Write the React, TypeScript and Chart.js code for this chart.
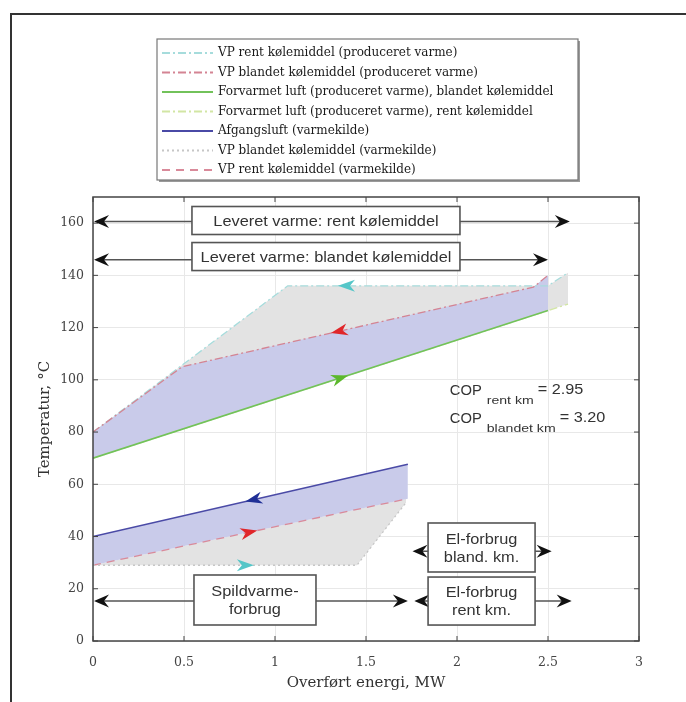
import React, { useEffect, useRef } from "react";
import { Chart, registerables } from "chart.js";
Chart.register(...registerables);

// ---------- axes ----------
const xTicks = [0, 0.5, 1, 1.5, 2, 2.5, 3];
const xTickLabels = ["0", "0.5", "1", "1.5", "2", "2.5", "3"];
const yTicks = [0, 20, 40, 60, 80, 100, 120, 140, 160];
const yTickLabels = ["0", "20", "40", "60", "80", "100", "120", "140", "160"];

// ---------- series (x = MW, y = °C) ----------
const vpRentProdX = [0, 1.07, 2.5, 2.61];
const vpRentProdY = [80, 136, 136, 141];
const vpBlandProdX = [0, 0.49, 2.42, 2.5];
const vpBlandProdY = [80, 105, 135.5, 140];
const luftBlandX = [0, 2.5];
const luftBlandY = [70, 126.5];
const luftRentX = [0, 2.61];
const luftRentY = [70, 129];
const afgangX = [0, 1.73];
const afgangY = [40, 67.7];
const vpBlandKildeX = [0, 1.45, 1.72];
const vpBlandKildeY = [29, 29, 53];
const vpRentKildeX = [0, 1.73];
const vpRentKildeY = [29, 54.5];

const seriesLabels = [
  "VP blandet kølemiddel (produceret varme)",
  "Afgangsluft (varmekilde)",
  "Forvarmet luft (produceret varme), blandet kølemiddel",
  "VP rent kølemiddel (produceret varme)",
  "Forvarmet luft (produceret varme), rent kølemiddel",
  "VP blandet kølemiddel (varmekilde)",
  "VP rent kølemiddel (varmekilde)",
];
const legendOrder = [3, 0, 2, 4, 1, 5, 6];

// flow direction arrows along lines
const flowArrowSeries = [3, 0, 2, 1, 6, 5];
const flowArrowX = [1.39, 1.35, 1.36, 0.88, 0.86, 0.84];
const flowArrowDir = [-1, -1, 1, -1, 1, 1];
const flowArrowColors = ["#55c6c8", "#e0262a", "#5cb82c", "#1f2f96", "#e0262a", "#55c6c8"];

// annotations (double arrows with text boxes)
const annotLabels = [
  ["Leveret varme: rent kølemiddel"],
  ["Leveret varme: blandet kølemiddel"],
  ["Spildvarme-", "forbrug"],
  ["El-forbrug", "rent km."],
  ["El-forbrug", "bland. km."],
];
const annotY = [160.6, 146, 15.3, 15.3, 34.4];
const annotX0 = [0, 0, 0, 1.76, 1.75];
const annotX1 = [2.62, 2.5, 1.73, 2.63, 2.52];
const annotBoxX = [1.28, 1.28, 0.89, 2.135, 2.135];
const annotBoxY = [161, 147.2, 15.7, 15.3, 35.8];

// COP text
const copSubs = ["rent km", "blandet km"];
const copValues = ["2.95", "3.20"];
const copX = [1.96, 1.96];
const copY = [95.6, 84.9];

const LAV = "#c9cbea";
const GREY = "#e3e3e3";
const boxSizes = [
  [268, 28],
  [268, 28],
  [122, 50],
  [107, 48],
  [107, 49],
];
const SANS = "'Liberation Sans', Arial, sans-serif";
const SERIF = "'DejaVu Serif', serif";

const zip = (xs: number[], ys: number[]) => xs.map((x, i) => ({ x, y: ys[i] }));

function drawHead(ctx: CanvasRenderingContext2D, tx: number, ty: number, ang: number, len: number, half: number, notch: number, color: string) {
  ctx.save();
  ctx.translate(tx, ty);
  ctx.rotate(ang);
  ctx.beginPath();
  ctx.moveTo(0, 0);
  ctx.lineTo(-len, -half);
  ctx.lineTo(-len + notch, 0);
  ctx.lineTo(-len, half);
  ctx.closePath();
  ctx.fillStyle = color;
  ctx.fill();
  ctx.restore();
}

function wideText(ctx: CanvasRenderingContext2D, t: string, x: number, y: number, sx: number) {
  ctx.save();
  ctx.translate(x, y);
  ctx.scale(sx, 1);
  ctx.fillText(t, 0, 0);
  const w = ctx.measureText(t).width * sx;
  ctx.restore();
  return w;
}

function interp(xs: number[], ys: number[], x: number) {
  for (let i = 0; i < xs.length - 1; i++) {
    if (x >= xs[i] && x <= xs[i + 1]) {
      const t = (x - xs[i]) / (xs[i + 1] - xs[i]);
      return { y: ys[i] + t * (ys[i + 1] - ys[i]), i };
    }
  }
  return { y: ys[ys.length - 1], i: xs.length - 2 };
}

const decorPlugin = {
  id: "decor",
  beforeDraw(chart: any) {
    const ctx = chart.ctx as CanvasRenderingContext2D;
    ctx.save();
    ctx.fillStyle = "#fff";
    ctx.fillRect(0, 0, chart.width, chart.height);
    ctx.strokeStyle = "#333";
    ctx.lineWidth = 2;
    ctx.beginPath();
    ctx.moveTo(11, 702);
    ctx.lineTo(11, 14);
    ctx.lineTo(686, 14);
    ctx.stroke();
    ctx.restore();
  },
  afterDatasetsDraw(chart: any) {
    const ctx = chart.ctx as CanvasRenderingContext2D;
    const xs = chart.scales.x;
    const ys = chart.scales.y;
    const area = chart.chartArea;
    const px = (v: number) => xs.getPixelForValue(v);
    const py = (v: number) => ys.getPixelForValue(v);

    // flow arrows
    const seriesXY = chart.data.datasets.map((d: any) => [d.data.map((p: any) => p.x), d.data.map((p: any) => p.y)]);
    flowArrowX.forEach((x, k) => {
      const [sx, sy] = seriesXY[flowArrowSeries[k]];
      const { y, i } = interp(sx, sy, x);
      const dxp = px(sx[i + 1]) - px(sx[i]);
      const dyp = py(sy[i + 1]) - py(sy[i]);
      let ang = Math.atan2(dyp, dxp);
      if (flowArrowDir[k] < 0) ang += Math.PI;
      const cx = px(x), cy = py(y);
      const tx = cx + Math.cos(ang) * 8, ty = cy + Math.sin(ang) * 8;
      drawHead(ctx, tx, ty, ang, 17, 6, 5, flowArrowColors[k]);
    });

    // plot frame + ticks
    ctx.save();
    ctx.strokeStyle = "#444";
    ctx.lineWidth = 1.5;
    ctx.strokeRect(area.left, area.top, area.right - area.left, area.bottom - area.top);
    ctx.lineWidth = 1;
    ctx.beginPath();
    xTicks.forEach((v) => {
      const x = px(v);
      ctx.moveTo(x, area.bottom); ctx.lineTo(x, area.bottom - 5);
      ctx.moveTo(x, area.top); ctx.lineTo(x, area.top + 5);
    });
    yTicks.forEach((v) => {
      const y = py(v);
      ctx.moveTo(area.left, y); ctx.lineTo(area.left + 5, y);
      ctx.moveTo(area.right, y); ctx.lineTo(area.right - 5, y);
    });
    ctx.stroke();
    ctx.restore();

    // annotations
    annotLabels.forEach((lines, k) => {
      const y = py(annotY[k]);
      const x0 = px(annotX0[k]) + 1;
      const x1 = px(annotX1[k]);
      ctx.save();
      ctx.strokeStyle = "#555";
      ctx.lineWidth = 1.5;
      ctx.beginPath();
      ctx.moveTo(x0 + 8, y);
      ctx.lineTo(x1 - 8, y);
      ctx.stroke();
      drawHead(ctx, x0, y, Math.PI, 15, 6.5, 5, "#111");
      drawHead(ctx, x1, y, 0, 15, 6.5, 5, "#111");
      const [w, h] = boxSizes[k];
      const cx = px(annotBoxX[k]);
      const cy = py(annotBoxY[k]);
      ctx.fillStyle = "#fff";
      ctx.fillRect(cx - w / 2, cy - h / 2, w, h);
      ctx.strokeStyle = "#555";
      ctx.lineWidth = 1.6;
      ctx.strokeRect(cx - w / 2, cy - h / 2, w, h);
      ctx.fillStyle = "#333";
      ctx.font = "15px " + SANS;
      ctx.textAlign = "center";
      ctx.textBaseline = "middle";
      const lh = 18;
      lines.forEach((t, j) => {
        ctx.save();
        ctx.translate(cx, cy + (j - (lines.length - 1) / 2) * lh + 1);
        ctx.scale(1.09, 1);
        ctx.fillText(t, 0, 0);
        ctx.restore();
      });
      ctx.restore();
    });

    // COP text
    ctx.save();
    ctx.fillStyle = "#333";
    ctx.textBaseline = "middle";
    ctx.textAlign = "left";
    copSubs.forEach((s, k) => {
      let x = px(copX[k]);
      const y = py(copY[k]);
      ctx.font = "14.5px " + SANS;
      x += wideText(ctx, "COP", x, y, 1.02) + 5;
      ctx.font = "11px " + SANS;
      x += wideText(ctx, s, x, y + 10, 1.28) + 4;
      ctx.font = "14.5px " + SANS;
      wideText(ctx, "= " + copValues[k], x, y - 1, 1.12);
    });
    ctx.restore();
  },
  afterDraw(chart: any) {
    const ctx = chart.ctx as CanvasRenderingContext2D;
    // legend
    const L = 157, T = 39, R = 578, B = 180;
    ctx.save();
    ctx.fillStyle = "#9a9a9a";
    ctx.fillRect(L + 2, T + 2, R - L, B - T);
    ctx.fillStyle = "#fff";
    ctx.fillRect(L, T, R - L, B - T);
    ctx.strokeStyle = "#777";
    ctx.lineWidth = 1.2;
    ctx.strokeRect(L, T, R - L, B - T);
    legendOrder.forEach((di, row) => {
      const ds = chart.data.datasets[di];
      const y = 53 + row * 19.5;
      ctx.save();
      ctx.strokeStyle = ds.borderColor;
      ctx.lineWidth = 1.8;
      ctx.setLineDash(ds.borderDash || []);
      ctx.beginPath();
      ctx.moveTo(162, y);
      ctx.lineTo(213, y);
      ctx.stroke();
      ctx.restore();
      ctx.fillStyle = "#1a1a1a";
      ctx.font = "12px " + SERIF;
      ctx.textBaseline = "middle";
      ctx.textAlign = "left";
      ctx.fillText(ds.label, 218, y);
    });
    ctx.restore();
  },
};

export default function App() {
  const ref = useRef<HTMLCanvasElement | null>(null);
  useEffect(() => {
    if (!ref.current) return;
    const lineBase = { pointRadius: 0, tension: 0, borderWidth: 1.3, showLine: true };
    const chart = new Chart(ref.current, {
      type: "line",
      data: {
        datasets: [
          { ...lineBase, label: seriesLabels[0], data: zip(vpBlandProdX, vpBlandProdY), borderColor: "#d48493", borderDash: [8, 3, 2, 3], fill: { target: 2 }, backgroundColor: LAV },
          { ...lineBase, label: seriesLabels[1], data: zip(afgangX, afgangY), borderColor: "#4a4aa6", borderWidth: 1.6, fill: { target: 6 }, backgroundColor: LAV },
          { ...lineBase, label: seriesLabels[2], data: zip(luftBlandX, luftBlandY), borderColor: "#72c25a", borderWidth: 1.6, fill: false },
          { ...lineBase, label: seriesLabels[3], data: zip(vpRentProdX, vpRentProdY), borderColor: "#a6dcdc", borderDash: [8, 3, 2, 3], fill: { target: 4 }, backgroundColor: GREY },
          { ...lineBase, label: seriesLabels[4], data: zip(luftRentX, luftRentY), borderColor: "#d2e6a4", borderDash: [8, 3, 2, 3], fill: false },
          { ...lineBase, label: seriesLabels[5], data: zip(vpBlandKildeX, vpBlandKildeY), borderColor: "#c6c6c6", borderDash: [2, 3], fill: false },
          { ...lineBase, label: seriesLabels[6], data: zip(vpRentKildeX, vpRentKildeY), borderColor: "#d98a9a", borderDash: [8, 6], fill: { target: 5 }, backgroundColor: GREY },
        ],
      },
      options: {
        responsive: false,
        animation: false,
        devicePixelRatio: 1,
        layout: { padding: { top: 197, right: 47, bottom: 0, left: 0 } },
        plugins: {
          legend: { display: false },
          tooltip: { enabled: false },
          filler: { drawTime: "beforeDatasetsDraw", propagate: false },
        } as any,
        scales: {
          x: {
            type: "linear",
            min: 0,
            max: 3,
            afterFit: (s: any) => { s.height = 61; },
            afterBuildTicks: (s: any) => { s.ticks = xTicks.map((v) => ({ value: v })); },
            ticks: {
              callback: (v: any) => xTickLabels[xTicks.indexOf(Number(v))],
              font: { family: SERIF, size: 12.5 },
              color: "#444",
              padding: 14,
              maxRotation: 0,
              autoSkip: false,
            },
            grid: { color: "#e8e8e8", drawTicks: false },
            border: { display: false },
            title: {
              display: true,
              text: "Overført energi, MW",
              font: { family: SERIF, size: 15 },
              color: "#333",
              padding: { top: 0, bottom: 10 },
            },
          },
          y: {
            type: "linear",
            min: 0,
            max: 170,
            afterFit: (s: any) => { s.width = 93; },
            afterBuildTicks: (s: any) => { s.ticks = yTicks.map((v) => ({ value: v })); },
            ticks: {
              callback: (v: any) => yTickLabels[yTicks.indexOf(Number(v))],
              font: { family: SERIF, size: 12.5 },
              color: "#444",
              padding: 9,
              autoSkip: false,
            },
            grid: { color: "#e8e8e8", drawTicks: false },
            border: { display: false },
            title: {
              display: true,
              text: "Temperatur, °C",
              font: { family: SERIF, size: 15 },
              color: "#333",
              padding: { top: 36, bottom: 0 },
            },
          },
        },
      } as any,
      plugins: [decorPlugin],
    });
    return () => chart.destroy();
  }, []);
  return (
    <div style={{ position: "absolute", left: 0, top: 0, width: 686, height: 702 }}>
      <canvas ref={ref} width={686} height={702} style={{ display: "block", width: 686, height: 702 }} />
    </div>
  );
}
